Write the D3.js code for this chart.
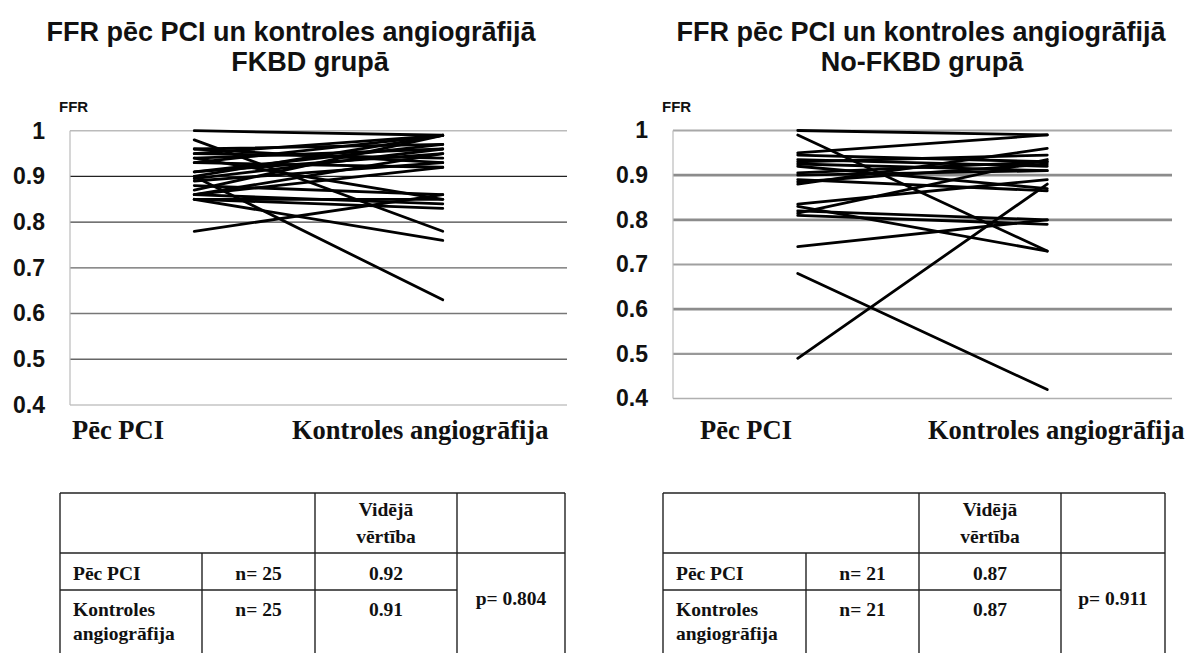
<!DOCTYPE html>
<html>
<head>
<meta charset="utf-8">
<script src="https://cdn.jsdelivr.net/npm/d3@7"></script>
<style>
  body { margin: 0; background: #fff; }
  svg { display: block; }
</style>
</head>
<body>
<div id="chart"></div>
<script>
// Kategorijas un ass
const categories = ["Pēc PCI", "Kontroles angiogrāfija"];
const yTicks = [0.4, 0.5, 0.6, 0.7, 0.8, 0.9, 1];

// FKBD grupa (n = 25): FFR pēc PCI un kontroles angiogrāfijā
const fkbdPre  = [1.00, 0.98, 0.96, 0.96, 0.95, 0.95, 0.94, 0.94, 0.93, 0.93, 0.91, 0.91, 0.90,
                  0.90, 0.895, 0.89, 0.88, 0.87, 0.86, 0.86, 0.85, 0.85, 0.85, 0.86, 0.78];
const fkbdPost = [0.99, 0.78, 0.93, 0.97, 0.99, 0.94, 0.96, 0.85, 0.99, 0.92, 0.97, 0.95, 0.63,
                  0.99, 0.96, 0.93, 0.86, 0.99, 0.84, 0.95, 0.83, 0.85, 0.76, 0.92, 0.86];

// No-FKBD grupa (n = 21)
const noFkbdPre  = [1.00, 0.99, 0.95, 0.945, 0.935, 0.93, 0.925, 0.92, 0.905, 0.90, 0.89,
                    0.885, 0.88, 0.835, 0.83, 0.82, 0.815, 0.81, 0.74, 0.68, 0.49];
const noFkbdPost = [0.99, 0.73, 0.99, 0.93, 0.92, 0.945, 0.91, 0.87, 0.93, 0.91, 0.865,
                    0.925, 0.96, 0.89, 0.73, 0.80, 0.935, 0.79, 0.80, 0.42, 0.88];

// Tabulu teksti
const tableHeader = ["Vidējā", "vērtība"];
const rowLabels = [["Pēc PCI"], ["Kontroles", "angiogrāfija"]];
const fkbdN = ["n= 25", "n= 25"];
const fkbdMeans = ["0.92", "0.91"];
const fkbdP = "p= 0.804";
const noFkbdN = ["n= 21", "n= 21"];
const noFkbdMeans = ["0.87", "0.87"];
const noFkbdP = "p= 0.911";

const W = 1190, H = 653;
const svg = d3.select("#chart").append("svg")
    .attr("width", W)
    .attr("height", H);

const sans = "'Liberation Sans', Arial, sans-serif";
const serif = "'Liberation Serif', 'Times New Roman', serif";

// Funkcija vienam grafikam
function drawChart(cfg) {
    const g = svg.append("g");

    const x = d3.scaleBand().domain(categories).range([cfg.left, cfg.right]);
    const y = d3.scaleLinear().domain([0.4, 1]).range([cfg.bottom, cfg.top]);
    const cx = c => x(c) + x.bandwidth() / 2;

    // Virsraksts
    g.append("text")
        .attr("x", cfg.titleX)
        .attr("y", 41)
        .attr("text-anchor", "middle")
        .attr("font-family", sans)
        .attr("font-weight", "bold")
        .attr("font-size", 27)
        .attr("fill", "#111")
        .text("FFR pēc PCI un kontroles angiogrāfijā");
    g.append("text")
        .attr("x", cfg.title2X)
        .attr("y", 71)
        .attr("text-anchor", "middle")
        .attr("font-family", sans)
        .attr("font-weight", "bold")
        .attr("font-size", 27)
        .attr("fill", "#111")
        .text(cfg.group);

    // Režģa līnijas
    g.selectAll(".grid")
        .data(yTicks)
        .join("line")
        .attr("class", "grid")
        .attr("x1", cfg.left)
        .attr("x2", cfg.right)
        .attr("y1", d => y(d))
        .attr("y2", d => y(d))
        .attr("stroke", (d, i) => cfg.gridColors[i])
        .attr("stroke-width", (d, i) => cfg.gridWidths[i]);

    // Kreisā ass līnija
    g.append("line")
        .attr("x1", cfg.left).attr("x2", cfg.left)
        .attr("y1", y(1)).attr("y2", y(0.4))
        .attr("stroke", "#bbb")
        .attr("stroke-width", 1.2);

    // Y ass iezīmes
    const yAxis = d3.axisLeft(y).tickValues(yTicks).tickSize(0).tickPadding(25)
        .tickFormat(d => d === 1 ? "1" : d3.format(".1f")(d));
    g.append("g")
        .attr("transform", `translate(${cfg.left},0)`)
        .call(yAxis)
        .call(a => a.select(".domain").remove())
        .selectAll("text")
        .attr("font-family", sans)
        .attr("font-weight", "bold")
        .attr("font-size", 23)
        .attr("fill", "#111");

    g.append("text")
        .attr("x", cfg.left - 11)
        .attr("y", 112)
        .attr("font-family", sans)
        .attr("font-weight", "bold")
        .attr("font-size", 15)
        .attr("fill", "#111")
        .text("FFR");

    // Pacientu līnijas
    const line = d3.line()
        .x(d => cx(d.cat))
        .y(d => y(d.v));
    const pairs = cfg.pre.map((v, i) => [
        { cat: categories[0], v: v },
        { cat: categories[1], v: cfg.post[i] }
    ]);
    g.selectAll(".patient")
        .data(pairs)
        .join("path")
        .attr("class", "patient")
        .attr("d", line)
        .attr("fill", "none")
        .attr("stroke", "#000")
        .attr("stroke-width", 2.8)
        .attr("stroke-linecap", "round");

    // Kategoriju nosaukumi
    g.selectAll(".cat")
        .data(categories)
        .join("text")
        .attr("class", "cat")
        .attr("x", (d, i) => cfg.left + cfg.catOffsets[i])
        .attr("y", 439)
        .attr("font-family", serif)
        .attr("font-weight", "bold")
        .attr("font-size", 26.5)
        .attr("fill", "#111")
        .text(d => d);
}

// Tabula zem grafika
function drawTable(cfg) {
    const g = svg.append("g")
        .attr("stroke", "#222")
        .attr("stroke-width", 1.4);
    const [c0, c1, c2, c3, c4] = cfg.cols;
    const r0 = 493, r1 = 553, r2 = 590, rEnd = H + 5;

    // Rāmis
    g.append("line").attr("x1", c0).attr("x2", c4).attr("y1", r0).attr("y2", r0);
    g.append("line").attr("x1", c0).attr("x2", c4).attr("y1", r1).attr("y2", r1);
    g.append("line").attr("x1", c0).attr("x2", c3).attr("y1", r2).attr("y2", r2);
    [c0, c2, c3, c4].forEach(c => {
        g.append("line").attr("x1", c).attr("x2", c).attr("y1", r0).attr("y2", rEnd);
    });
    g.append("line").attr("x1", c1).attr("x2", c1).attr("y1", r1).attr("y2", rEnd);

    const t = svg.append("g")
        .attr("font-family", serif)
        .attr("font-weight", "bold")
        .attr("font-size", 19.5)
        .attr("fill", "#111");

    const mid2 = (c2 + c3) / 2;
    t.append("text").attr("x", mid2).attr("y", 516).attr("text-anchor", "middle").text(tableHeader[0]);
    t.append("text").attr("x", mid2).attr("y", 543).attr("text-anchor", "middle").text(tableHeader[1]);

    const baselines = [580, 616];
    rowLabels.forEach((lab, i) => {
        lab.forEach((s, j) => {
            t.append("text").attr("x", c0 + 13).attr("y", baselines[i] + j * 24).text(s);
        });
        t.append("text").attr("x", (c1 + c2) / 2).attr("y", baselines[i])
            .attr("text-anchor", "middle").text(cfg.n[i]);
        t.append("text").attr("x", mid2).attr("y", baselines[i])
            .attr("text-anchor", "middle").text(cfg.means[i]);
    });
    t.append("text").attr("x", (c3 + c4) / 2).attr("y", 605)
        .attr("text-anchor", "middle").text(cfg.p);
}

drawChart({
    left: 70, right: 567, top: 130.7, bottom: 405,
    titleX: 291, title2X: 310, group: "FKBD grupā",
    pre: fkbdPre, post: fkbdPost,
    gridColors: ["#c4c4c4", "#666", "#777", "#666", "#444", "#222", "#bbb"],
    gridWidths: [1.4, 1.4, 1.4, 1.4, 1.4, 1.4, 1.4],
    catOffsets: [2, 222]
});

drawChart({
    left: 673, right: 1172, top: 130.5, bottom: 398.5,
    titleX: 921, title2X: 922, group: "No-FKBD grupā",
    pre: noFkbdPre, post: noFkbdPost,
    gridColors: ["#b0b0b0", "#999", "#8c8c8c", "#a0a0a0", "#8c8c8c", "#8c8c8c", "#a8a8a8"],
    gridWidths: [1.6, 2.2, 2.8, 2.2, 2.8, 2.8, 2.2],
    catOffsets: [27, 255]
});

drawTable({ cols: [60, 202, 315, 457, 565], n: fkbdN, means: fkbdMeans, p: fkbdP });
drawTable({ cols: [663, 806, 919, 1061, 1165], n: noFkbdN, means: noFkbdMeans, p: noFkbdP });
</script>
</body>
</html>
